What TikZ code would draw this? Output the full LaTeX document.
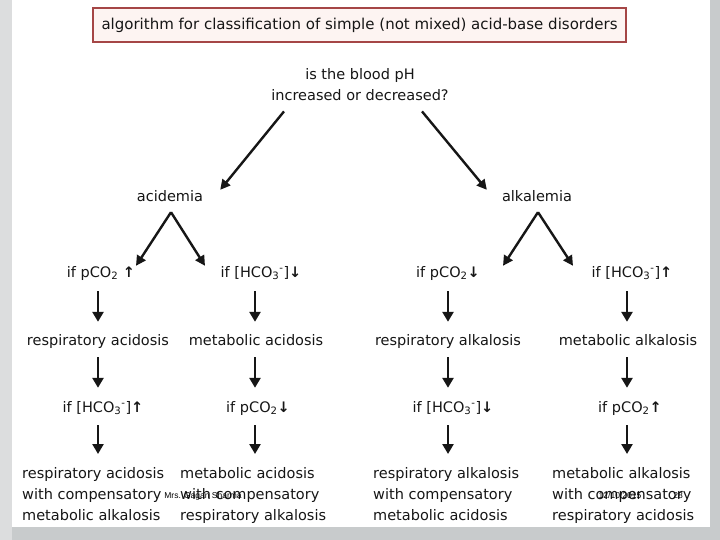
\documentclass[tikz,border=0pt]{standalone}
\usepackage{fontspec}
\setmainfont{DejaVu Sans}
\newfontfamily\wmfont{Liberation Sans}
\usetikzlibrary{arrows.meta,calc}
\definecolor{bggray}{RGB}{200,203,204}
\definecolor{leftgray}{RGB}{220,221,222}
\definecolor{txt}{RGB}{22,22,22}
\definecolor{boxred}{RGB}{165,70,70}
\definecolor{boxfill}{RGB}{253,244,242}
\newcommand{\hco}{[HCO\textsubscript{3}\textsuperscript{-}]}
\newcommand{\pco}{pCO\textsubscript{2}}
\newcommand{\up}{{\bfseries ↑}}
\newcommand{\dn}{{\bfseries ↓}}
\begin{document}
\begin{tikzpicture}[x=1pt,y=-1pt,
  every node/.style={inner sep=0pt,text=txt},
  lbl/.style={font=\fontsize{14.5}{20}\selectfont,text height=11pt,text depth=3pt,anchor=base},
  block/.style={font=\fontsize{14.5}{21}\selectfont,align=left,anchor=north west},
  wm/.style={font=\wmfont\fontsize{8.5}{10}\selectfont,text=black,anchor=base},
  arr/.style={draw=txt,line width=2.4pt,-{Triangle[width=10pt,length=10pt]}},
  darr/.style={draw=txt,line width=2.8pt,-{Triangle[width=11pt,length=10pt]}}]
\useasboundingbox (0,0) rectangle (720,540);
\fill[bggray] (0,0) rectangle (720,540);
\fill[leftgray] (0,0) rectangle (12,540);
\fill[white] (12,0) rectangle (710,527);
% title
\node[draw=boxred,line width=2pt,fill=boxfill,minimum width=533pt,minimum height=34pt,
  font=\fontsize{15}{18}\selectfont] (t) at (359.5,25) {algorithm for classification of simple (not mixed) acid-base disorders};
\node[font=\fontsize{14.5}{21}\selectfont,align=center,anchor=base] (q) at (360,101) {is the blood pH\\increased or decreased?};
\node[lbl] (acid) at (170,202) {acidemia};
\node[lbl] (alk) at (537,202) {alkalemia};
% row 1
\node[lbl] (c1a) at (101,277) {if \pco\ \up};
\node[lbl] (c2a) at (261,277) {if \hco\dn};
\node[lbl] (c3a) at (448,277) {if \pco\dn};
\node[lbl] (c4a) at (632,277) {if \hco\up};
% row 2
\node[lbl] (c1b) at (98,345) {respiratory acidosis};
\node[lbl] (c2b) at (256,345) {metabolic acidosis};
\node[lbl] (c3b) at (448,345) {respiratory alkalosis};
\node[lbl] (c4b) at (628,345) {metabolic alkalosis};
% row 3
\node[lbl] (c1c) at (103,412) {if \hco\up};
\node[lbl] (c2c) at (258,412) {if \pco\dn};
\node[lbl] (c3c) at (453,412) {if \hco\dn};
\node[lbl] (c4c) at (630,412) {if \pco\up};
% row 4
\node[block] (c1d) at (22,467) {respiratory acidosis\\with compensatory\\metabolic alkalosis};
\node[block] (c2d) at (180,467) {metabolic acidosis\\with compensatory\\respiratory alkalosis};
\node[block] (c3d) at (373,467) {respiratory alkalosis\\with compensatory\\metabolic acidosis};
\node[block] (c4d) at (552,467) {metabolic alkalosis\\with compensatory\\respiratory acidosis};
% watermark texts
\node[wm] (wm1) at (203,498) {Mrs. Gagan Sharma};
\node[wm] (wm2) at (620,498) {12/10/2015};
\node[wm] (wm3) at (678,498) {28};
% connectors
\coordinate (qL) at ($(q.south)+(-76,10)$);
\coordinate (qR) at ($(q.south)+(62,10)$);
\coordinate (acidIn) at ($(acid.north east)+(17,-1)$);
\coordinate (alkIn) at ($(alk.north west)+(-15,-1)$);
\draw[arr] (qL) -- (acidIn);
\draw[arr] (qR) -- (alkIn);
\coordinate (acidOut) at ($(acid.south)+(1,7)$);
\coordinate (alkOut) at ($(alk.south)+(1,7)$);
\draw[arr] (acidOut) -- (c1a.north -| 136,0) ;
\draw[arr] (acidOut) -- (c2a.north -| 205,0);
\draw[arr] (alkOut) -- (c3a.north -| 503,0);
\draw[arr] (alkOut) -- (c4a.north -| 573,0);
\foreach \c/\x in {1/98,2/255,3/448,4/627}{
  \draw[darr,shorten <=11pt,shorten >=12pt] (c\c a.south -| \x,0) -- (c\c b.north -| \x,0);
  \draw[darr,shorten <=9pt,shorten >=13pt] (c\c b.south -| \x,0) -- (c\c c.north -| \x,0);
  \draw[darr,shorten <=10pt,shorten >=13pt] (c\c c.south -| \x,0) -- (c\c d.north -| \x,0);
}
\end{tikzpicture}
\end{document}
